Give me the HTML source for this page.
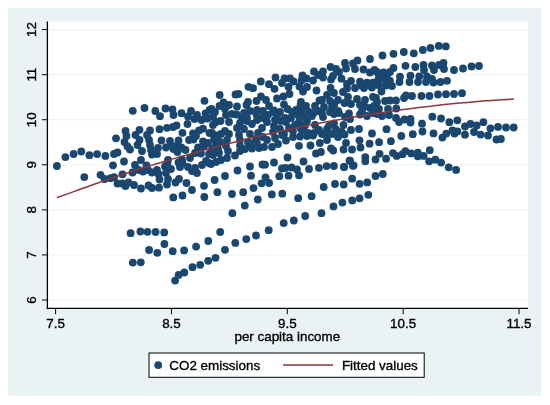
<!DOCTYPE html><html><head><meta charset="utf-8"><title>scatter</title>
<style>html,body{margin:0;padding:0;background:#fff;}svg{display:block}text{font-family:"Liberation Sans",Arial,sans-serif;font-size:13.4px;fill:#000;stroke:#000;stroke-width:0.35px}</style></head><body>
<svg width="550" height="405" viewBox="0 0 550 405">
<rect x="0" y="0" width="550" height="405" fill="#ffffff"/>
<rect x="8.1" y="7.7" width="533.2" height="388" fill="#eaf2f3"/>
<rect x="47.4" y="21.4" width="480.6" height="287.0" fill="#ffffff"/>
<line x1="47.4" x2="528" y1="300.00" y2="300.00" stroke="#eaf2f3" stroke-width="1"/>
<line x1="47.4" x2="528" y1="254.93" y2="254.93" stroke="#eaf2f3" stroke-width="1"/>
<line x1="47.4" x2="528" y1="209.87" y2="209.87" stroke="#eaf2f3" stroke-width="1"/>
<line x1="47.4" x2="528" y1="164.80" y2="164.80" stroke="#eaf2f3" stroke-width="1"/>
<line x1="47.4" x2="528" y1="119.73" y2="119.73" stroke="#eaf2f3" stroke-width="1"/>
<line x1="47.4" x2="528" y1="74.67" y2="74.67" stroke="#eaf2f3" stroke-width="1"/>
<line x1="47.4" x2="528" y1="29.60" y2="29.60" stroke="#eaf2f3" stroke-width="1"/>
<g fill="#1a476f">
<circle cx="56.9" cy="166.0" r="3.9"/>
<circle cx="65.4" cy="157.1" r="3.9"/>
<circle cx="73.6" cy="154.0" r="3.9"/>
<circle cx="81.3" cy="151.5" r="3.9"/>
<circle cx="89.4" cy="155.2" r="3.9"/>
<circle cx="97.1" cy="154.1" r="3.9"/>
<circle cx="105.4" cy="155.9" r="3.9"/>
<circle cx="84.3" cy="177.1" r="3.9"/>
<circle cx="132.8" cy="110.8" r="3.9"/>
<circle cx="144.5" cy="108.0" r="3.9"/>
<circle cx="155.3" cy="111.0" r="3.9"/>
<circle cx="116.0" cy="138.3" r="3.9"/>
<circle cx="114.0" cy="154.0" r="3.9"/>
<circle cx="117.5" cy="152.5" r="3.9"/>
<circle cx="125.5" cy="131.0" r="3.9"/>
<circle cx="126.5" cy="136.0" r="3.9"/>
<circle cx="124.5" cy="142.0" r="3.9"/>
<circle cx="127.5" cy="146.5" r="3.9"/>
<circle cx="130.0" cy="149.5" r="3.9"/>
<circle cx="139.5" cy="129.8" r="3.9"/>
<circle cx="135.5" cy="135.0" r="3.9"/>
<circle cx="139.5" cy="140.0" r="3.9"/>
<circle cx="137.5" cy="145.0" r="3.9"/>
<circle cx="142.0" cy="151.0" r="3.9"/>
<circle cx="150.0" cy="130.5" r="3.9"/>
<circle cx="147.0" cy="135.0" r="3.9"/>
<circle cx="149.0" cy="140.0" r="3.9"/>
<circle cx="150.0" cy="145.0" r="3.9"/>
<circle cx="151.0" cy="150.0" r="3.9"/>
<circle cx="152.0" cy="154.5" r="3.9"/>
<circle cx="113.0" cy="165.3" r="3.9"/>
<circle cx="124.0" cy="161.5" r="3.9"/>
<circle cx="141.0" cy="160.0" r="3.9"/>
<circle cx="135.0" cy="165.0" r="3.9"/>
<circle cx="146.5" cy="165.3" r="3.9"/>
<circle cx="100.5" cy="174.8" r="3.9"/>
<circle cx="104.5" cy="179.0" r="3.9"/>
<circle cx="110.5" cy="178.2" r="3.9"/>
<circle cx="114.0" cy="177.2" r="3.9"/>
<circle cx="122.5" cy="174.3" r="3.9"/>
<circle cx="132.5" cy="172.5" r="3.9"/>
<circle cx="138.5" cy="170.0" r="3.9"/>
<circle cx="143.0" cy="171.5" r="3.9"/>
<circle cx="148.0" cy="170.0" r="3.9"/>
<circle cx="152.0" cy="172.5" r="3.9"/>
<circle cx="117.5" cy="183.5" r="3.9"/>
<circle cx="122.5" cy="183.5" r="3.9"/>
<circle cx="125.5" cy="186.0" r="3.9"/>
<circle cx="128.5" cy="182.5" r="3.9"/>
<circle cx="134.0" cy="185.0" r="3.9"/>
<circle cx="141.0" cy="188.5" r="3.9"/>
<circle cx="148.5" cy="185.5" r="3.9"/>
<circle cx="152.0" cy="188.0" r="3.9"/>
<circle cx="204.5" cy="100.8" r="3.9"/>
<circle cx="160.0" cy="116.2" r="3.9"/>
<circle cx="165.5" cy="108.5" r="3.9"/>
<circle cx="172.5" cy="109.5" r="3.9"/>
<circle cx="173.5" cy="115.0" r="3.9"/>
<circle cx="181.5" cy="113.2" r="3.9"/>
<circle cx="191.0" cy="111.0" r="3.9"/>
<circle cx="188.0" cy="116.5" r="3.9"/>
<circle cx="197.0" cy="115.0" r="3.9"/>
<circle cx="194.5" cy="119.0" r="3.9"/>
<circle cx="201.5" cy="120.0" r="3.9"/>
<circle cx="205.5" cy="113.5" r="3.9"/>
<circle cx="209.5" cy="110.0" r="3.9"/>
<circle cx="187.5" cy="124.0" r="3.9"/>
<circle cx="176.5" cy="125.5" r="3.9"/>
<circle cx="173.0" cy="127.0" r="3.9"/>
<circle cx="167.0" cy="127.8" r="3.9"/>
<circle cx="159.5" cy="129.2" r="3.9"/>
<circle cx="203.0" cy="128.7" r="3.9"/>
<circle cx="199.0" cy="130.5" r="3.9"/>
<circle cx="182.5" cy="132.8" r="3.9"/>
<circle cx="193.0" cy="133.5" r="3.9"/>
<circle cx="196.0" cy="136.0" r="3.9"/>
<circle cx="161.5" cy="140.5" r="3.9"/>
<circle cx="170.0" cy="141.0" r="3.9"/>
<circle cx="178.5" cy="140.5" r="3.9"/>
<circle cx="189.0" cy="140.0" r="3.9"/>
<circle cx="193.5" cy="139.5" r="3.9"/>
<circle cx="203.0" cy="141.5" r="3.9"/>
<circle cx="209.5" cy="133.0" r="3.9"/>
<circle cx="208.0" cy="143.0" r="3.9"/>
<circle cx="158.0" cy="148.0" r="3.9"/>
<circle cx="157.0" cy="154.0" r="3.9"/>
<circle cx="166.0" cy="147.5" r="3.9"/>
<circle cx="171.0" cy="145.5" r="3.9"/>
<circle cx="176.5" cy="146.0" r="3.9"/>
<circle cx="173.5" cy="149.0" r="3.9"/>
<circle cx="177.5" cy="152.0" r="3.9"/>
<circle cx="181.5" cy="147.5" r="3.9"/>
<circle cx="185.5" cy="150.0" r="3.9"/>
<circle cx="198.0" cy="147.5" r="3.9"/>
<circle cx="201.0" cy="153.5" r="3.9"/>
<circle cx="195.0" cy="153.0" r="3.9"/>
<circle cx="209.0" cy="154.0" r="3.9"/>
<circle cx="190.0" cy="158.0" r="3.9"/>
<circle cx="168.0" cy="160.0" r="3.9"/>
<circle cx="182.0" cy="159.5" r="3.9"/>
<circle cx="167.5" cy="163.0" r="3.9"/>
<circle cx="165.0" cy="166.5" r="3.9"/>
<circle cx="171.0" cy="169.0" r="3.9"/>
<circle cx="178.5" cy="162.5" r="3.9"/>
<circle cx="182.5" cy="163.0" r="3.9"/>
<circle cx="180.0" cy="167.0" r="3.9"/>
<circle cx="188.0" cy="167.0" r="3.9"/>
<circle cx="157.0" cy="170.0" r="3.9"/>
<circle cx="158.5" cy="174.0" r="3.9"/>
<circle cx="159.5" cy="179.5" r="3.9"/>
<circle cx="166.0" cy="173.0" r="3.9"/>
<circle cx="168.0" cy="179.0" r="3.9"/>
<circle cx="167.0" cy="184.5" r="3.9"/>
<circle cx="159.0" cy="187.7" r="3.9"/>
<circle cx="179.0" cy="179.0" r="3.9"/>
<circle cx="175.5" cy="182.5" r="3.9"/>
<circle cx="186.5" cy="183.0" r="3.9"/>
<circle cx="192.0" cy="171.0" r="3.9"/>
<circle cx="195.0" cy="168.0" r="3.9"/>
<circle cx="197.0" cy="173.0" r="3.9"/>
<circle cx="202.0" cy="165.0" r="3.9"/>
<circle cx="206.0" cy="161.0" r="3.9"/>
<circle cx="209.0" cy="163.0" r="3.9"/>
<circle cx="204.0" cy="185.8" r="3.9"/>
<circle cx="192.0" cy="190.0" r="3.9"/>
<circle cx="182.5" cy="195.5" r="3.9"/>
<circle cx="173.3" cy="197.4" r="3.9"/>
<circle cx="204.3" cy="197.0" r="3.9"/>
<circle cx="130.6" cy="233.2" r="3.9"/>
<circle cx="140.4" cy="231.5" r="3.9"/>
<circle cx="147.5" cy="231.8" r="3.9"/>
<circle cx="155.6" cy="232.0" r="3.9"/>
<circle cx="164.2" cy="232.4" r="3.9"/>
<circle cx="164.4" cy="244.0" r="3.9"/>
<circle cx="149.1" cy="250.0" r="3.9"/>
<circle cx="157.3" cy="252.8" r="3.9"/>
<circle cx="172.7" cy="251.2" r="3.9"/>
<circle cx="184.1" cy="250.4" r="3.9"/>
<circle cx="196.1" cy="246.6" r="3.9"/>
<circle cx="208.3" cy="241.0" r="3.9"/>
<circle cx="132.8" cy="262.6" r="3.9"/>
<circle cx="140.8" cy="262.3" r="3.9"/>
<circle cx="175.1" cy="280.6" r="3.9"/>
<circle cx="178.6" cy="274.9" r="3.9"/>
<circle cx="184.3" cy="272.5" r="3.9"/>
<circle cx="192.5" cy="267.2" r="3.9"/>
<circle cx="200.2" cy="264.8" r="3.9"/>
<circle cx="208.2" cy="260.8" r="3.9"/>
<circle cx="260.8" cy="81.5" r="3.9"/>
<circle cx="248.5" cy="86.8" r="3.9"/>
<circle cx="253.0" cy="88.2" r="3.9"/>
<circle cx="219.7" cy="95.0" r="3.9"/>
<circle cx="235.5" cy="94.5" r="3.9"/>
<circle cx="238.5" cy="94.0" r="3.9"/>
<circle cx="261.0" cy="96.5" r="3.9"/>
<circle cx="256.5" cy="101.0" r="3.9"/>
<circle cx="248.0" cy="102.0" r="3.9"/>
<circle cx="246.5" cy="105.0" r="3.9"/>
<circle cx="223.5" cy="102.5" r="3.9"/>
<circle cx="219.5" cy="106.0" r="3.9"/>
<circle cx="229.0" cy="105.0" r="3.9"/>
<circle cx="237.0" cy="106.5" r="3.9"/>
<circle cx="225.0" cy="109.0" r="3.9"/>
<circle cx="211.5" cy="109.0" r="3.9"/>
<circle cx="215.0" cy="112.0" r="3.9"/>
<circle cx="250.0" cy="111.0" r="3.9"/>
<circle cx="257.0" cy="110.0" r="3.9"/>
<circle cx="263.0" cy="111.0" r="3.9"/>
<circle cx="236.5" cy="114.5" r="3.9"/>
<circle cx="226.0" cy="115.0" r="3.9"/>
<circle cx="242.0" cy="118.0" r="3.9"/>
<circle cx="247.0" cy="121.0" r="3.9"/>
<circle cx="257.0" cy="120.0" r="3.9"/>
<circle cx="263.0" cy="118.0" r="3.9"/>
<circle cx="216.0" cy="122.0" r="3.9"/>
<circle cx="213.0" cy="125.0" r="3.9"/>
<circle cx="229.0" cy="122.0" r="3.9"/>
<circle cx="237.0" cy="128.0" r="3.9"/>
<circle cx="240.0" cy="123.0" r="3.9"/>
<circle cx="252.0" cy="124.0" r="3.9"/>
<circle cx="262.0" cy="128.0" r="3.9"/>
<circle cx="225.0" cy="131.0" r="3.9"/>
<circle cx="221.0" cy="134.0" r="3.9"/>
<circle cx="229.0" cy="134.0" r="3.9"/>
<circle cx="212.0" cy="133.0" r="3.9"/>
<circle cx="214.0" cy="139.0" r="3.9"/>
<circle cx="250.0" cy="134.0" r="3.9"/>
<circle cx="239.0" cy="135.0" r="3.9"/>
<circle cx="240.0" cy="140.0" r="3.9"/>
<circle cx="256.0" cy="139.0" r="3.9"/>
<circle cx="263.0" cy="137.0" r="3.9"/>
<circle cx="227.0" cy="140.0" r="3.9"/>
<circle cx="220.0" cy="142.0" r="3.9"/>
<circle cx="248.0" cy="142.0" r="3.9"/>
<circle cx="250.0" cy="166.5" r="3.9"/>
<circle cx="262.5" cy="164.5" r="3.9"/>
<circle cx="237.5" cy="170.5" r="3.9"/>
<circle cx="225.0" cy="176.0" r="3.9"/>
<circle cx="251.0" cy="175.7" r="3.9"/>
<circle cx="214.6" cy="180.0" r="3.9"/>
<circle cx="265.5" cy="177.3" r="3.9"/>
<circle cx="211.0" cy="164.0" r="3.9"/>
<circle cx="216.0" cy="162.0" r="3.9"/>
<circle cx="221.0" cy="160.0" r="3.9"/>
<circle cx="227.0" cy="158.0" r="3.9"/>
<circle cx="235.0" cy="155.5" r="3.9"/>
<circle cx="213.0" cy="155.0" r="3.9"/>
<circle cx="219.0" cy="153.0" r="3.9"/>
<circle cx="218.0" cy="149.0" r="3.9"/>
<circle cx="212.0" cy="149.0" r="3.9"/>
<circle cx="228.0" cy="151.0" r="3.9"/>
<circle cx="226.0" cy="146.0" r="3.9"/>
<circle cx="240.0" cy="151.0" r="3.9"/>
<circle cx="245.0" cy="149.0" r="3.9"/>
<circle cx="252.0" cy="148.5" r="3.9"/>
<circle cx="259.0" cy="148.0" r="3.9"/>
<circle cx="264.0" cy="147.0" r="3.9"/>
<circle cx="240.0" cy="145.5" r="3.9"/>
<circle cx="250.0" cy="143.5" r="3.9"/>
<circle cx="257.0" cy="143.0" r="3.9"/>
<circle cx="216.0" cy="144.0" r="3.9"/>
<circle cx="217.4" cy="192.2" r="3.9"/>
<circle cx="232.0" cy="194.0" r="3.9"/>
<circle cx="243.2" cy="192.2" r="3.9"/>
<circle cx="253.5" cy="188.1" r="3.9"/>
<circle cx="261.6" cy="183.3" r="3.9"/>
<circle cx="269.1" cy="183.0" r="3.9"/>
<circle cx="279.3" cy="176.2" r="3.9"/>
<circle cx="271.8" cy="194.4" r="3.9"/>
<circle cx="282.3" cy="193.7" r="3.9"/>
<circle cx="257.8" cy="199.5" r="3.9"/>
<circle cx="244.8" cy="205.6" r="3.9"/>
<circle cx="232.4" cy="213.2" r="3.9"/>
<circle cx="283.7" cy="223.1" r="3.9"/>
<circle cx="268.7" cy="230.2" r="3.9"/>
<circle cx="220.2" cy="232.0" r="3.9"/>
<circle cx="256.0" cy="235.5" r="3.9"/>
<circle cx="246.3" cy="239.1" r="3.9"/>
<circle cx="235.3" cy="242.9" r="3.9"/>
<circle cx="225.0" cy="249.8" r="3.9"/>
<circle cx="215.5" cy="257.8" r="3.9"/>
<circle cx="275.5" cy="77.5" r="3.9"/>
<circle cx="269.0" cy="84.2" r="3.9"/>
<circle cx="274.5" cy="88.8" r="3.9"/>
<circle cx="284.5" cy="78.5" r="3.9"/>
<circle cx="290.0" cy="78.5" r="3.9"/>
<circle cx="282.0" cy="83.0" r="3.9"/>
<circle cx="293.5" cy="81.5" r="3.9"/>
<circle cx="288.5" cy="87.0" r="3.9"/>
<circle cx="289.5" cy="94.0" r="3.9"/>
<circle cx="283.5" cy="96.5" r="3.9"/>
<circle cx="277.0" cy="98.5" r="3.9"/>
<circle cx="266.0" cy="100.0" r="3.9"/>
<circle cx="302.5" cy="75.5" r="3.9"/>
<circle cx="306.5" cy="78.5" r="3.9"/>
<circle cx="301.5" cy="80.5" r="3.9"/>
<circle cx="299.5" cy="86.5" r="3.9"/>
<circle cx="303.0" cy="91.5" r="3.9"/>
<circle cx="307.0" cy="87.0" r="3.9"/>
<circle cx="313.0" cy="80.5" r="3.9"/>
<circle cx="314.0" cy="71.5" r="3.9"/>
<circle cx="318.0" cy="75.0" r="3.9"/>
<circle cx="316.5" cy="90.5" r="3.9"/>
<circle cx="319.5" cy="100.5" r="3.9"/>
<circle cx="301.0" cy="102.0" r="3.9"/>
<circle cx="269.0" cy="106.0" r="3.9"/>
<circle cx="284.0" cy="104.5" r="3.9"/>
<circle cx="287.5" cy="109.0" r="3.9"/>
<circle cx="300.5" cy="105.0" r="3.9"/>
<circle cx="306.0" cy="106.0" r="3.9"/>
<circle cx="315.0" cy="106.0" r="3.9"/>
<circle cx="273.0" cy="112.0" r="3.9"/>
<circle cx="280.0" cy="112.0" r="3.9"/>
<circle cx="268.0" cy="115.0" r="3.9"/>
<circle cx="296.0" cy="110.0" r="3.9"/>
<circle cx="298.0" cy="115.0" r="3.9"/>
<circle cx="309.0" cy="112.0" r="3.9"/>
<circle cx="312.0" cy="116.0" r="3.9"/>
<circle cx="285.0" cy="118.0" r="3.9"/>
<circle cx="286.0" cy="122.0" r="3.9"/>
<circle cx="275.0" cy="120.0" r="3.9"/>
<circle cx="267.0" cy="122.0" r="3.9"/>
<circle cx="274.0" cy="126.0" r="3.9"/>
<circle cx="295.0" cy="125.0" r="3.9"/>
<circle cx="307.0" cy="121.0" r="3.9"/>
<circle cx="280.0" cy="129.0" r="3.9"/>
<circle cx="301.0" cy="129.0" r="3.9"/>
<circle cx="315.0" cy="125.0" r="3.9"/>
<circle cx="319.0" cy="130.0" r="3.9"/>
<circle cx="273.0" cy="132.0" r="3.9"/>
<circle cx="284.0" cy="134.0" r="3.9"/>
<circle cx="308.0" cy="133.0" r="3.9"/>
<circle cx="299.0" cy="145.8" r="3.9"/>
<circle cx="310.5" cy="145.5" r="3.9"/>
<circle cx="319.8" cy="143.0" r="3.9"/>
<circle cx="316.0" cy="153.5" r="3.9"/>
<circle cx="287.5" cy="157.5" r="3.9"/>
<circle cx="303.5" cy="161.5" r="3.9"/>
<circle cx="274.0" cy="162.5" r="3.9"/>
<circle cx="265.0" cy="164.7" r="3.9"/>
<circle cx="272.0" cy="147.0" r="3.9"/>
<circle cx="278.0" cy="144.0" r="3.9"/>
<circle cx="286.0" cy="140.5" r="3.9"/>
<circle cx="267.0" cy="140.0" r="3.9"/>
<circle cx="275.0" cy="138.0" r="3.9"/>
<circle cx="293.0" cy="137.0" r="3.9"/>
<circle cx="300.0" cy="136.5" r="3.9"/>
<circle cx="307.0" cy="136.0" r="3.9"/>
<circle cx="313.0" cy="135.5" r="3.9"/>
<circle cx="282.0" cy="135.0" r="3.9"/>
<circle cx="282.0" cy="168.5" r="3.9"/>
<circle cx="285.5" cy="168.0" r="3.9"/>
<circle cx="291.5" cy="167.5" r="3.9"/>
<circle cx="297.0" cy="169.5" r="3.9"/>
<circle cx="309.0" cy="169.0" r="3.9"/>
<circle cx="318.9" cy="167.8" r="3.9"/>
<circle cx="288.5" cy="175.7" r="3.9"/>
<circle cx="299.0" cy="175.3" r="3.9"/>
<circle cx="326.6" cy="166.1" r="3.9"/>
<circle cx="333.9" cy="166.0" r="3.9"/>
<circle cx="352.2" cy="178.7" r="3.9"/>
<circle cx="343.7" cy="184.5" r="3.9"/>
<circle cx="335.0" cy="184.0" r="3.9"/>
<circle cx="323.7" cy="187.0" r="3.9"/>
<circle cx="298.2" cy="198.2" r="3.9"/>
<circle cx="311.6" cy="196.2" r="3.9"/>
<circle cx="359.6" cy="198.3" r="3.9"/>
<circle cx="352.2" cy="200.4" r="3.9"/>
<circle cx="342.4" cy="202.6" r="3.9"/>
<circle cx="333.5" cy="206.4" r="3.9"/>
<circle cx="321.5" cy="213.2" r="3.9"/>
<circle cx="305.2" cy="216.0" r="3.9"/>
<circle cx="293.8" cy="220.5" r="3.9"/>
<circle cx="370.0" cy="59.0" r="3.9"/>
<circle cx="357.5" cy="60.5" r="3.9"/>
<circle cx="353.0" cy="63.5" r="3.9"/>
<circle cx="345.0" cy="63.0" r="3.9"/>
<circle cx="355.0" cy="69.0" r="3.9"/>
<circle cx="346.0" cy="68.5" r="3.9"/>
<circle cx="363.5" cy="69.5" r="3.9"/>
<circle cx="370.0" cy="72.5" r="3.9"/>
<circle cx="374.5" cy="70.0" r="3.9"/>
<circle cx="330.5" cy="67.0" r="3.9"/>
<circle cx="336.0" cy="69.0" r="3.9"/>
<circle cx="339.0" cy="72.0" r="3.9"/>
<circle cx="323.0" cy="71.5" r="3.9"/>
<circle cx="333.0" cy="76.0" r="3.9"/>
<circle cx="323.0" cy="77.5" r="3.9"/>
<circle cx="331.0" cy="79.5" r="3.9"/>
<circle cx="341.5" cy="78.7" r="3.9"/>
<circle cx="351.0" cy="81.0" r="3.9"/>
<circle cx="360.0" cy="81.7" r="3.9"/>
<circle cx="367.0" cy="82.7" r="3.9"/>
<circle cx="373.0" cy="82.7" r="3.9"/>
<circle cx="347.0" cy="84.0" r="3.9"/>
<circle cx="330.5" cy="88.0" r="3.9"/>
<circle cx="347.0" cy="88.5" r="3.9"/>
<circle cx="343.0" cy="92.0" r="3.9"/>
<circle cx="355.0" cy="88.0" r="3.9"/>
<circle cx="364.0" cy="88.0" r="3.9"/>
<circle cx="372.0" cy="87.5" r="3.9"/>
<circle cx="327.0" cy="95.0" r="3.9"/>
<circle cx="334.0" cy="93.0" r="3.9"/>
<circle cx="322.0" cy="100.0" r="3.9"/>
<circle cx="330.0" cy="101.0" r="3.9"/>
<circle cx="338.0" cy="100.0" r="3.9"/>
<circle cx="348.0" cy="97.0" r="3.9"/>
<circle cx="357.0" cy="99.0" r="3.9"/>
<circle cx="365.0" cy="100.0" r="3.9"/>
<circle cx="373.0" cy="97.0" r="3.9"/>
<circle cx="351.0" cy="104.0" r="3.9"/>
<circle cx="360.0" cy="105.0" r="3.9"/>
<circle cx="370.0" cy="108.0" r="3.9"/>
<circle cx="324.0" cy="107.0" r="3.9"/>
<circle cx="332.0" cy="107.0" r="3.9"/>
<circle cx="338.0" cy="111.0" r="3.9"/>
<circle cx="349.0" cy="113.5" r="3.9"/>
<circle cx="330.0" cy="112.0" r="3.9"/>
<circle cx="322.0" cy="113.0" r="3.9"/>
<circle cx="362.0" cy="111.5" r="3.9"/>
<circle cx="374.0" cy="106.0" r="3.9"/>
<circle cx="372.0" cy="133.5" r="3.9"/>
<circle cx="369.6" cy="143.7" r="3.9"/>
<circle cx="359.0" cy="129.0" r="3.9"/>
<circle cx="359.5" cy="140.3" r="3.9"/>
<circle cx="360.5" cy="147.5" r="3.9"/>
<circle cx="351.0" cy="130.0" r="3.9"/>
<circle cx="346.0" cy="143.0" r="3.9"/>
<circle cx="352.0" cy="149.5" r="3.9"/>
<circle cx="343.5" cy="149.5" r="3.9"/>
<circle cx="331.0" cy="148.3" r="3.9"/>
<circle cx="320.9" cy="152.0" r="3.9"/>
<circle cx="329.0" cy="126.0" r="3.9"/>
<circle cx="327.0" cy="129.0" r="3.9"/>
<circle cx="343.5" cy="125.0" r="3.9"/>
<circle cx="336.0" cy="129.5" r="3.9"/>
<circle cx="341.5" cy="132.0" r="3.9"/>
<circle cx="332.0" cy="134.0" r="3.9"/>
<circle cx="338.0" cy="137.0" r="3.9"/>
<circle cx="327.0" cy="140.0" r="3.9"/>
<circle cx="322.0" cy="134.0" r="3.9"/>
<circle cx="323.0" cy="117.0" r="3.9"/>
<circle cx="350.0" cy="119.0" r="3.9"/>
<circle cx="345.0" cy="117.0" r="3.9"/>
<circle cx="339.0" cy="113.0" r="3.9"/>
<circle cx="367.0" cy="116.0" r="3.9"/>
<circle cx="360.0" cy="114.5" r="3.9"/>
<circle cx="373.0" cy="113.0" r="3.9"/>
<circle cx="333.2" cy="150.5" r="3.9"/>
<circle cx="379.1" cy="142.2" r="3.9"/>
<circle cx="390.9" cy="141.2" r="3.9"/>
<circle cx="365.3" cy="157.2" r="3.9"/>
<circle cx="365.3" cy="161.3" r="3.9"/>
<circle cx="375.5" cy="159.5" r="3.9"/>
<circle cx="379.6" cy="153.8" r="3.9"/>
<circle cx="386.1" cy="158.7" r="3.9"/>
<circle cx="393.0" cy="153.1" r="3.9"/>
<circle cx="349.5" cy="160.7" r="3.9"/>
<circle cx="353.6" cy="165.5" r="3.9"/>
<circle cx="343.9" cy="167.0" r="3.9"/>
<circle cx="344.1" cy="166.9" r="3.9"/>
<circle cx="352.9" cy="165.8" r="3.9"/>
<circle cx="382.8" cy="174.0" r="3.9"/>
<circle cx="375.5" cy="176.0" r="3.9"/>
<circle cx="367.2" cy="182.4" r="3.9"/>
<circle cx="359.6" cy="183.8" r="3.9"/>
<circle cx="368.3" cy="194.8" r="3.9"/>
<circle cx="350.0" cy="160.7" r="3.9"/>
<circle cx="382.5" cy="55.5" r="3.9"/>
<circle cx="393.5" cy="53.8" r="3.9"/>
<circle cx="403.8" cy="52.0" r="3.9"/>
<circle cx="413.8" cy="53.3" r="3.9"/>
<circle cx="422.8" cy="50.0" r="3.9"/>
<circle cx="430.5" cy="48.0" r="3.9"/>
<circle cx="405.5" cy="65.8" r="3.9"/>
<circle cx="415.3" cy="67.0" r="3.9"/>
<circle cx="423.5" cy="65.0" r="3.9"/>
<circle cx="424.0" cy="70.0" r="3.9"/>
<circle cx="393.5" cy="68.0" r="3.9"/>
<circle cx="390.0" cy="72.0" r="3.9"/>
<circle cx="383.5" cy="72.5" r="3.9"/>
<circle cx="377.0" cy="72.0" r="3.9"/>
<circle cx="400.0" cy="76.7" r="3.9"/>
<circle cx="410.5" cy="75.7" r="3.9"/>
<circle cx="419.3" cy="76.3" r="3.9"/>
<circle cx="427.0" cy="76.5" r="3.9"/>
<circle cx="379.0" cy="76.0" r="3.9"/>
<circle cx="399.5" cy="82.0" r="3.9"/>
<circle cx="409.5" cy="82.0" r="3.9"/>
<circle cx="418.0" cy="82.0" r="3.9"/>
<circle cx="426.0" cy="82.0" r="3.9"/>
<circle cx="387.0" cy="75.0" r="3.9"/>
<circle cx="378.0" cy="80.5" r="3.9"/>
<circle cx="385.0" cy="79.5" r="3.9"/>
<circle cx="390.0" cy="81.0" r="3.9"/>
<circle cx="379.0" cy="85.5" r="3.9"/>
<circle cx="386.0" cy="85.5" r="3.9"/>
<circle cx="392.0" cy="86.0" r="3.9"/>
<circle cx="381.5" cy="91.5" r="3.9"/>
<circle cx="376.0" cy="98.0" r="3.9"/>
<circle cx="377.0" cy="102.0" r="3.9"/>
<circle cx="385.0" cy="101.0" r="3.9"/>
<circle cx="390.0" cy="100.5" r="3.9"/>
<circle cx="396.0" cy="100.5" r="3.9"/>
<circle cx="404.0" cy="98.0" r="3.9"/>
<circle cx="406.0" cy="95.5" r="3.9"/>
<circle cx="412.0" cy="96.0" r="3.9"/>
<circle cx="421.5" cy="96.0" r="3.9"/>
<circle cx="429.5" cy="96.0" r="3.9"/>
<circle cx="379.0" cy="109.0" r="3.9"/>
<circle cx="388.0" cy="109.0" r="3.9"/>
<circle cx="396.3" cy="108.5" r="3.9"/>
<circle cx="377.0" cy="114.0" r="3.9"/>
<circle cx="382.0" cy="116.0" r="3.9"/>
<circle cx="389.0" cy="115.0" r="3.9"/>
<circle cx="396.0" cy="118.0" r="3.9"/>
<circle cx="399.0" cy="122.0" r="3.9"/>
<circle cx="404.5" cy="119.5" r="3.9"/>
<circle cx="410.5" cy="119.0" r="3.9"/>
<circle cx="410.5" cy="122.5" r="3.9"/>
<circle cx="422.0" cy="123.7" r="3.9"/>
<circle cx="422.5" cy="131.5" r="3.9"/>
<circle cx="432.3" cy="116.7" r="3.9"/>
<circle cx="386.5" cy="129.2" r="3.9"/>
<circle cx="401.3" cy="136.0" r="3.9"/>
<circle cx="412.8" cy="134.2" r="3.9"/>
<circle cx="433.5" cy="133.4" r="3.9"/>
<circle cx="442.4" cy="137.6" r="3.9"/>
<circle cx="446.3" cy="133.6" r="3.9"/>
<circle cx="396.7" cy="155.9" r="3.9"/>
<circle cx="402.5" cy="154.2" r="3.9"/>
<circle cx="405.4" cy="151.2" r="3.9"/>
<circle cx="411.2" cy="153.4" r="3.9"/>
<circle cx="417.8" cy="152.7" r="3.9"/>
<circle cx="417.8" cy="156.3" r="3.9"/>
<circle cx="423.6" cy="155.9" r="3.9"/>
<circle cx="429.8" cy="150.2" r="3.9"/>
<circle cx="429.2" cy="161.3" r="3.9"/>
<circle cx="435.3" cy="159.7" r="3.9"/>
<circle cx="441.1" cy="162.6" r="3.9"/>
<circle cx="448.7" cy="167.3" r="3.9"/>
<circle cx="456.1" cy="169.9" r="3.9"/>
<circle cx="438.8" cy="45.9" r="3.9"/>
<circle cx="445.8" cy="46.4" r="3.9"/>
<circle cx="443.5" cy="63.0" r="3.9"/>
<circle cx="439.0" cy="65.0" r="3.9"/>
<circle cx="432.0" cy="65.5" r="3.9"/>
<circle cx="434.0" cy="70.0" r="3.9"/>
<circle cx="444.0" cy="69.0" r="3.9"/>
<circle cx="454.0" cy="70.0" r="3.9"/>
<circle cx="463.0" cy="68.5" r="3.9"/>
<circle cx="471.5" cy="66.5" r="3.9"/>
<circle cx="479.0" cy="66.0" r="3.9"/>
<circle cx="432.0" cy="79.0" r="3.9"/>
<circle cx="433.5" cy="82.5" r="3.9"/>
<circle cx="440.5" cy="82.0" r="3.9"/>
<circle cx="447.0" cy="80.8" r="3.9"/>
<circle cx="438.0" cy="94.5" r="3.9"/>
<circle cx="446.0" cy="94.2" r="3.9"/>
<circle cx="454.0" cy="94.0" r="3.9"/>
<circle cx="462.0" cy="93.2" r="3.9"/>
<circle cx="441.0" cy="118.5" r="3.9"/>
<circle cx="449.3" cy="122.2" r="3.9"/>
<circle cx="457.3" cy="120.3" r="3.9"/>
<circle cx="465.0" cy="126.5" r="3.9"/>
<circle cx="470.5" cy="124.0" r="3.9"/>
<circle cx="476.7" cy="125.5" r="3.9"/>
<circle cx="474.0" cy="132.0" r="3.9"/>
<circle cx="465.0" cy="134.7" r="3.9"/>
<circle cx="457.4" cy="131.5" r="3.9"/>
<circle cx="452.5" cy="130.5" r="3.9"/>
<circle cx="454.5" cy="133.5" r="3.9"/>
<circle cx="483.4" cy="122.2" r="3.9"/>
<circle cx="490.4" cy="128.3" r="3.9"/>
<circle cx="498.0" cy="126.9" r="3.9"/>
<circle cx="506.0" cy="127.5" r="3.9"/>
<circle cx="513.7" cy="127.5" r="3.9"/>
<circle cx="480.6" cy="134.6" r="3.9"/>
<circle cx="488.0" cy="135.5" r="3.9"/>
<circle cx="496.5" cy="139.5" r="3.9"/>
<circle cx="500.9" cy="139.0" r="3.9"/>
<circle cx="220.5" cy="121.0" r="3.9"/>
<circle cx="244.0" cy="129.0" r="3.9"/>
<circle cx="258.0" cy="133.0" r="3.9"/>
<circle cx="292.0" cy="112.0" r="3.9"/>
<circle cx="291.0" cy="118.0" r="3.9"/>
<circle cx="302.0" cy="112.0" r="3.9"/>
<circle cx="277.0" cy="117.0" r="3.9"/>
<circle cx="289.0" cy="128.0" r="3.9"/>
<circle cx="305.0" cy="125.5" r="3.9"/>
<circle cx="361.0" cy="85.5" r="3.9"/>
<circle cx="369.0" cy="85.0" r="3.9"/>
<circle cx="334.5" cy="104.0" r="3.9"/>
<circle cx="204.0" cy="146.5" r="3.9"/>
<circle cx="344.5" cy="134.5" r="3.9"/>
<circle cx="344.5" cy="103.0" r="3.9"/>
<circle cx="304.5" cy="117.0" r="3.9"/>
<circle cx="364.5" cy="106.5" r="3.9"/>
<circle cx="244.0" cy="113.0" r="3.9"/>
<circle cx="256.5" cy="114.5" r="3.9"/>
<circle cx="274.0" cy="110.5" r="3.9"/>
<circle cx="280.5" cy="121.0" r="3.9"/>
<circle cx="247.0" cy="118.0" r="3.9"/>
<circle cx="207.5" cy="118.5" r="3.9"/>
<circle cx="213.0" cy="117.0" r="3.9"/>
<circle cx="232.0" cy="114.0" r="3.9"/>
<circle cx="216.5" cy="135.5" r="3.9"/>
<circle cx="313.5" cy="113.0" r="3.9"/>
<circle cx="318.0" cy="111.0" r="3.9"/>
<circle cx="334.0" cy="114.0" r="3.9"/>
<circle cx="293.0" cy="131.0" r="3.9"/>
<circle cx="302.5" cy="130.0" r="3.9"/>
<circle cx="314.0" cy="133.0" r="3.9"/>
<circle cx="326.5" cy="134.5" r="3.9"/>
<circle cx="334.0" cy="123.5" r="3.9"/>
<circle cx="299.0" cy="122.0" r="3.9"/>
</g>
<polyline fill="none" stroke="#90353b" stroke-width="1.5" points="56.9,197.8 64.6,194.9 72.4,192.1 80.1,189.3 87.9,186.5 95.6,183.8 103.4,181.1 111.1,178.5 118.9,175.9 126.6,173.3 134.4,170.8 142.1,168.3 149.9,165.9 157.6,163.5 165.4,161.2 173.1,158.9 180.9,156.6 188.6,154.4 196.4,152.2 204.1,150.1 211.8,148.0 219.6,145.9 227.3,143.9 235.1,141.9 242.8,140.0 250.6,138.1 258.3,136.3 266.1,134.5 273.8,132.7 281.6,131.0 289.3,129.3 297.1,127.7 304.8,126.1 312.6,124.6 320.3,123.1 328.1,121.6 335.8,120.2 343.6,118.8 351.3,117.4 359.1,116.1 366.8,114.9 374.5,113.7 382.3,112.5 390.0,111.4 397.8,110.3 405.5,109.2 413.3,108.2 421.0,107.3 428.8,106.4 436.5,105.5 444.3,104.6 452.0,103.8 459.8,103.1 467.5,102.4 475.3,101.7 483.0,101.1 490.8,100.5 498.5,100.0 506.3,99.5 514.0,99.0"/>
<line x1="47.4" x2="47.4" y1="21.4" y2="309.04999999999995" stroke="#000" stroke-width="1.3"/>
<line x1="46.75" x2="528" y1="308.4" y2="308.4" stroke="#000" stroke-width="1.3"/>
<line x1="42" x2="47.4" y1="300.00" y2="300.00" stroke="#000" stroke-width="1"/>
<text transform="translate(36.3,300.00) rotate(-90)" text-anchor="middle">6</text>
<line x1="42" x2="47.4" y1="254.93" y2="254.93" stroke="#000" stroke-width="1"/>
<text transform="translate(36.3,254.93) rotate(-90)" text-anchor="middle">7</text>
<line x1="42" x2="47.4" y1="209.87" y2="209.87" stroke="#000" stroke-width="1"/>
<text transform="translate(36.3,209.87) rotate(-90)" text-anchor="middle">8</text>
<line x1="42" x2="47.4" y1="164.80" y2="164.80" stroke="#000" stroke-width="1"/>
<text transform="translate(36.3,164.80) rotate(-90)" text-anchor="middle">9</text>
<line x1="42" x2="47.4" y1="119.73" y2="119.73" stroke="#000" stroke-width="1"/>
<text transform="translate(36.3,119.73) rotate(-90)" text-anchor="middle">10</text>
<line x1="42" x2="47.4" y1="74.67" y2="74.67" stroke="#000" stroke-width="1"/>
<text transform="translate(36.3,74.67) rotate(-90)" text-anchor="middle">11</text>
<line x1="42" x2="47.4" y1="29.60" y2="29.60" stroke="#000" stroke-width="1"/>
<text transform="translate(36.3,29.60) rotate(-90)" text-anchor="middle">12</text>
<line x1="55.60" x2="55.60" y1="308.4" y2="314.2" stroke="#000" stroke-width="1"/>
<text x="55.60" y="328.3" text-anchor="middle">7.5</text>
<line x1="171.45" x2="171.45" y1="308.4" y2="314.2" stroke="#000" stroke-width="1"/>
<text x="171.45" y="328.3" text-anchor="middle">8.5</text>
<line x1="287.30" x2="287.30" y1="308.4" y2="314.2" stroke="#000" stroke-width="1"/>
<text x="287.30" y="328.3" text-anchor="middle">9.5</text>
<line x1="403.15" x2="403.15" y1="308.4" y2="314.2" stroke="#000" stroke-width="1"/>
<text x="403.15" y="328.3" text-anchor="middle">10.5</text>
<line x1="519.00" x2="519.00" y1="308.4" y2="314.2" stroke="#000" stroke-width="1"/>
<text x="519.00" y="328.3" text-anchor="middle">11.5</text>
<text x="287.3" y="341.4" text-anchor="middle">per capita income</text>
<rect x="149" y="353" width="275.2" height="24.3" fill="#fff" stroke="#000" stroke-width="1"/>
<circle cx="158.2" cy="365.1" r="3.9" fill="#1a476f"/>
<text x="169.3" y="369.7">CO2 emissions</text>
<line x1="283.1" x2="333.1" y1="365.1" y2="365.1" stroke="#90353b" stroke-width="1.5"/>
<text x="341.9" y="369.7">Fitted values</text>
</svg></body></html>
